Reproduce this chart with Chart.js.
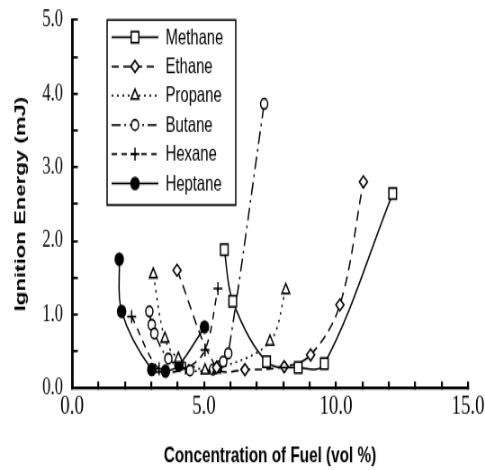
<!DOCTYPE html>
<html>
<head>
<meta charset="utf-8">
<script src="https://cdn.jsdelivr.net/npm/chart.js@4.4.1/dist/chart.umd.min.js"></script>
<style>
  body { margin: 0; background: #fff; }
</style>
</head>
<body>
<!-- bitmap is 539x360, shown squeezed/stretched to 485x470 like the scanned figure -->
<canvas id="chart" width="539" height="360" style="display:block;width:485px;height:470px"></canvas>
<script>
const methaneConc = [5.77, 6.09, 7.37, 8.57, 9.56, 12.15];
const methaneEnergy = [1.88, 1.18, 0.36, 0.28, 0.33, 2.64];

const ethaneConc = [3.98, 5.48, 6.55, 8.04, 9.04, 10.15, 11.04];
const ethaneEnergy = [1.60, 0.28, 0.25, 0.29, 0.45, 1.13, 2.80];

const propaneConc = [3.08, 3.52, 4.03, 5.04, 5.48, 7.50, 8.10];
const propaneEnergy = [1.54, 0.67, 0.40, 0.24, 0.25, 0.63, 1.33];

const butaneConc = [2.93, 3.02, 3.12, 3.65, 4.47, 5.34, 5.55, 5.73, 5.92, 7.28];
const butaneEnergy = [1.04, 0.86, 0.74, 0.40, 0.24, 0.25, 0.29, 0.36, 0.47, 3.86];

const hexaneConc = [2.26, 3.30, 4.30, 5.04, 5.53];
const hexaneEnergy = [0.97, 0.26, 0.27, 0.52, 1.35];

const heptaneConc = [1.79, 1.88, 3.02, 3.54, 4.05, 5.02];
const heptaneEnergy = [1.75, 1.04, 0.25, 0.23, 0.31, 0.83];

const xLabelValues = [0, 5, 10, 15];
const yLabelValues = [0, 1, 2, 3, 4, 5];

function pairs(xs, ys) {
    return xs.map((x, i) => ({ x: x, y: ys[i] }));
}

function series(label, xs, ys, dash, style, radius, fill) {
    return {
        label: label,
        data: pairs(xs, ys),
        showLine: true,
        tension: 0.35,
        borderColor: "#000",
        borderWidth: 1.5,
        borderDash: dash,
        pointStyle: style,
        pointRadius: radius,
        pointBackgroundColor: fill,
        pointBorderColor: "#000",
        pointBorderWidth: 1.5
    };
}

const legendBox = {
    id: "legendBox",
    afterDraw(chart) {
        const ctx = chart.ctx;
        const left = 119, top = 15.3, right = 262, bottom = 157;
        ctx.save();
        ctx.fillStyle = "#fff";
        ctx.fillRect(left, top, right - left, bottom - top);
        ctx.lineWidth = 1.5;
        ctx.strokeStyle = "#000";
        ctx.setLineDash([]);
        ctx.strokeRect(left, top, right - left, bottom - top);

        chart.data.datasets.forEach((ds, i) => {
            const y = 28.5 + i * 22.4;
            ctx.strokeStyle = "#000";
            ctx.lineWidth = 1.5;
            ctx.setLineDash(ds.borderDash);
            ctx.beginPath();
            ctx.moveTo(124, y);
            ctx.lineTo(176, y);
            ctx.stroke();
            ctx.setLineDash([]);
            ctx.fillStyle = ds.pointBackgroundColor;
            ctx.strokeStyle = "#000";
            Chart.helpers.drawPoint(ctx, {
                pointStyle: ds.pointStyle,
                radius: ds.pointRadius,
                rotation: 0,
                borderWidth: 1.5
            }, 150, y);
            ctx.fillStyle = "#000";
            ctx.font = "16.5px 'Liberation Sans', Arial, sans-serif";
            ctx.textAlign = "left";
            ctx.textBaseline = "middle";
            ctx.fillText(ds.label, 184, y + 0.5);
        });
        ctx.restore();
    }
};

new Chart(document.getElementById("chart"), {
    type: "scatter",
    data: {
        datasets: [
            series("Methane", methaneConc, methaneEnergy, [], "rect", 6, "#fff"),
            series("Ethane", ethaneConc, ethaneEnergy, [8, 5], "rectRot", 4.5, "#fff"),
            series("Propane", propaneConc, propaneEnergy, [2, 4], "triangle", 5, "#fff"),
            series("Butane", butaneConc, butaneEnergy, [10, 4, 2, 4], "circle", 4, "#fff"),
            series("Hexane", hexaneConc, hexaneEnergy, [6, 5], "cross", 5, "#000"),
            series("Heptane", heptaneConc, heptaneEnergy, [], "circle", 4.5, "#000")
        ]
    },
    options: {
        responsive: false,
        devicePixelRatio: 1,
        animation: false,
        layout: { padding: { top: 15.3, right: 19, left: 0, bottom: 0 } },
        plugins: {
            legend: { display: false },
            tooltip: { enabled: false }
        },
        scales: {
            x: {
                type: "linear",
                min: 0,
                max: 15,
                afterFit: (scale) => {
                    scale.height = 62.8;
                    scale.paddingLeft = 0;
                    scale.paddingRight = 0;
                },
                border: { display: true, color: "#000", width: 2.3 },
                grid: { drawOnChartArea: false, color: "#000", lineWidth: 2.2, tickLength: -5 },
                ticks: {
                    stepSize: 1,
                    autoSkip: false,
                    maxRotation: 0,
                    padding: 7,
                    color: "#000",
                    font: { family: "'Liberation Serif', 'Times New Roman', serif", size: 21 },
                    callback: (v) => (xLabelValues.includes(v) ? v.toFixed(1) : "")
                },
                title: {
                    display: true,
                    text: "Concentration of Fuel (vol %)",
                    color: "#000",
                    padding: { top: 0, bottom: 0 },
                    font: { family: "'Liberation Sans', Arial, sans-serif", size: 17, weight: "bold" }
                }
            },
            y: {
                type: "linear",
                min: 0,
                max: 5,
                afterFit: (scale) => {
                    scale.width = 80;
                    scale.paddingTop = 0;
                    scale.paddingBottom = 0;
                },
                border: { display: true, color: "#000", width: 2.8 },
                grid: { drawOnChartArea: false, color: "#000", lineWidth: 1.8, tickLength: -6.5 },
                ticks: {
                    stepSize: 0.5,
                    autoSkip: false,
                    padding: 16.5,
                    color: "#000",
                    font: { family: "'Liberation Serif', 'Times New Roman', serif", size: 18.5 },
                    callback: (v) => (yLabelValues.includes(v) ? v.toFixed(1) : "")
                },
                title: {
                    display: true,
                    text: "Ignition Energy (mJ)",
                    color: "#000",
                    padding: { top: 13.5, bottom: 0 },
                    font: { family: "'Liberation Sans', Arial, sans-serif", size: 17, weight: "bold" }
                }
            }
        }
    },
    plugins: [legendBox]
});
</script>
</body>
</html>
